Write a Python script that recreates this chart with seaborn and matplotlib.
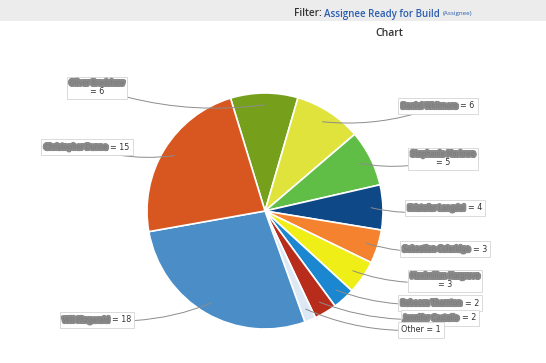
import matplotlib as mpl
mpl.use('agg')
import matplotlib.pyplot as plt
import matplotlib.patheffects as pe
from matplotlib.offsetbox import TextArea, HPacker, VPacker, AnnotationBbox
from matplotlib.patches import Rectangle
import numpy as np
import seaborn as sns

sns.set_style("white")
plt.rcParams['font.family'] = ['Open Sans', 'DejaVu Sans']

# slices, clockwise from the top
names = ["Oliver Bradshaw", "Daniel Whitmore", "Stephanie Marlowe", "Kristofer Langdal",
         "Sebastian Coleridge", "Maximilian Hargrove", "Rebecca Thornton", "Jennifer Castello",
         "Other", "Will Fitzgerald", "Christopher Dunne"]
counts = [6, 6, 5, 4, 3, 3, 2, 2, 1, 18, 15]
colors = ["#76a01b", "#dfe33c", "#60bd46", "#0f4886", "#f4822f", "#efee17",
          "#1b87d0", "#b72c1a", "#dce9f4", "#4a8dc7", "#d8561f"]
two_line = [True, False, True, False, False, True, False, False, False, False, False]
# label box centres in pixels (x from left, y from top)
label_pos = [(97, 88), (438, 106), (443, 159), (445, 208), (445, 249), (445, 281),
             (440, 303), (440, 318), (421, 330), (97, 320), (87, 147)]

W, H = 546, 363
fig = plt.figure(figsize=(W / 100, H / 100), dpi=100)
ax = fig.add_axes([0, 0, 1, 1])

# header bar
fig.patches.append(Rectangle((0, 1 - 21 / H), 1, 21 / H, transform=fig.transFigure,
                             facecolor="#ececec", edgecolor="none", zorder=0))
fig.text(294 / W, 1 - 14 / H, "Filter:", color="#333333", fontsize=7.2, weight="semibold", va="center")
fig.text(324 / W, 1 - 14 / H, "Assignee Ready for Build", color="#2a5db0", fontsize=7,
         weight="semibold", va="center")
fig.text(443 / W, 1 - 14 / H, "(Assignee)", color="#2a5db0", fontsize=4.5, va="center")
fig.text(389 / W, 1 - 33 / H, "Chart", color="#333333", fontsize=7.5, weight="semibold",
         va="center", ha="center")

center = (265, H - 211)
R = 118
wedges, _ = ax.pie(counts, colors=sns.color_palette(colors), startangle=107, counterclock=False,
                   center=center, radius=R,
                   wedgeprops=dict(edgecolor="white", linewidth=1.2))
ax.set_xlim(0, W)
ax.set_ylim(0, H)
ax.set_aspect("equal")
ax.axis("off")

scribble = [pe.Stroke(linewidth=3.0, foreground="#8a8a8a"), pe.Normal()]
for w, name, v, two, (lx, ly) in zip(wedges, names, counts, two_line, label_pos):
    mid = np.deg2rad((w.theta1 + w.theta2) / 2)
    anchor = (center[0] + 0.9 * R * np.cos(mid), center[1] + 0.9 * R * np.sin(mid))
    val = TextArea("= %d" % v, textprops=dict(fontsize=5.8, color="#333333", family="DejaVu Sans"))
    if name == "Other":
        box = TextArea("Other = %d" % v, textprops=dict(fontsize=5.8, color="#333333", family="DejaVu Sans"))
    else:
        nm = TextArea(name, textprops=dict(fontsize=4.8, color="#7a7a7a", family="DejaVu Sans",
                                           path_effects=scribble))
        if two:
            box = VPacker(children=[nm, val], align="center", pad=0, sep=1)
        else:
            box = HPacker(children=[nm, val], align="center", pad=0, sep=2)
    rad = 0.12 if lx < center[0] else -0.12
    ab = AnnotationBbox(box, xy=anchor, xybox=(lx, H - ly), xycoords="data", boxcoords="data",
                        frameon=True, pad=0.22,
                        bboxprops=dict(edgecolor="#d5d5d5", facecolor="white", lw=0.6),
                        arrowprops=dict(arrowstyle="-", color="#8c8c8c", lw=0.7,
                                        connectionstyle="arc3,rad=%.2f" % rad,
                                        shrinkA=0, shrinkB=0))
    ax.add_artist(ab)

plt.savefig("out.png", dpi=100)
